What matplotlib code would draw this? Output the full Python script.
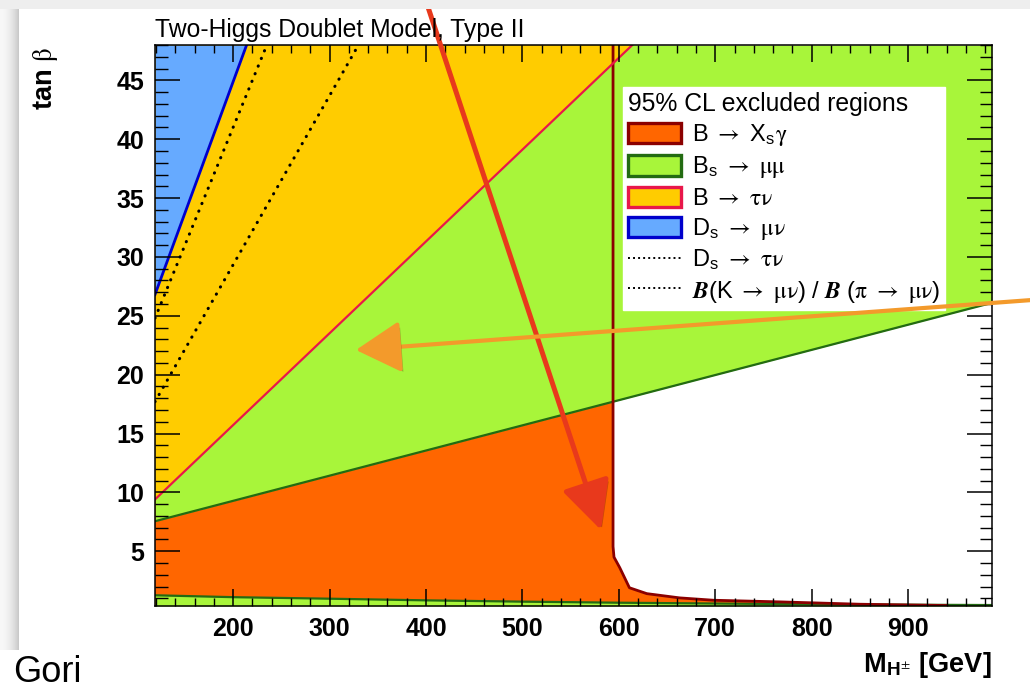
import matplotlib
matplotlib.use("Agg")
import matplotlib.pyplot as plt
import matplotlib.patheffects as pe
from matplotlib.patches import Patch, Rectangle
from matplotlib.lines import Line2D
from matplotlib.ticker import MultipleLocator
import numpy as np

plt.rcParams['font.family'] = ['Liberation Sans', 'DejaVu Sans']
plt.rcParams['mathtext.fontset'] = 'custom'
plt.rcParams['mathtext.rm'] = 'STIXGeneral'
plt.rcParams['mathtext.sf'] = 'Liberation Sans'
plt.rcParams['mathtext.it'] = 'STIXGeneral:italic'
plt.rcParams['mathtext.bf'] = 'Liberation Sans:bold'
if 'mathtext.bfit' in plt.rcParams:
    plt.rcParams['mathtext.bfit'] = 'STIXGeneral:italic:bold'

# ---- data (M_H+ in GeV, tan beta) ----
# B -> Xs gamma boundary (everything left of / below it excluded)
bsg_m = [594, 594, 595, 601, 611, 629, 663, 698, 767, 850, 940]
bsg_tb = [48.0, 5.4, 4.5, 3.6, 1.9, 1.4, 1.04, 0.84, 0.70, 0.50, 0.39]

# Bs -> mu mu : excluded above the upper line and below the lower line
bsmm_up_m = [119, 987]
bsmm_up_tb = [7.55, 26.1]
bsmm_low_m = [119, 200, 300, 400, 500, 600, 700, 800, 900, 987]
bsmm_low_tb = [1.26, 1.10, 0.97, 0.83, 0.72, 0.63, 0.56, 0.50, 0.46, 0.43]

# B -> tau nu : excluded above the line
btn_m = [119, 614]
btn_tb = [9.4, 48.0]

# Ds -> mu nu : excluded above the line
dsmn_m = [119, 214]
dsmn_tb = [26.8, 48.0]

# dotted lines
dstn_m = [119, 235]
dstn_tb = [24.8, 48.0]
kmn_m = [119, 330]
kmn_tb = [17.7, 48.0]

x_lim = (119, 987)
y_lim = (0.35, 48.0)
x_major = [200, 300, 400, 500, 600, 700, 800, 900]
y_major = [5, 10, 15, 20, 25, 30, 35, 40, 45]

c_orange = '#FF6600'
c_green = '#A8F53A'
c_yellow = '#FFCC00'
c_blue = '#66AAFF'
c_darkred = '#8B0000'
c_dgreen = '#236B12'
c_red = '#E8174A'
c_dblue = '#0000CC'

W, H = 1030, 691
fig = plt.figure(figsize=(W / 100, H / 100), dpi=100)
fig.patch.set_facecolor('white')

# slide background: grey top band and left shadow of the card
fig.patches.append(Rectangle((0, 1 - 9 / H), 1, 9 / H, transform=fig.transFigure,
                             facecolor='#EEEEEE', edgecolor='none', zorder=0))
for i in range(19):
    g = 0.97 - 0.18 * (i / 18) ** 2
    fig.patches.append(Rectangle((i / W, 41 / H), 1 / W, (650 - 9) / H, transform=fig.transFigure,
                                 facecolor=(g, g, g), edgecolor='none', zorder=0))

ax = fig.add_axes([155 / W, 1 - 606 / H, (992 - 155) / W, (606 - 45) / H])
ax.set_xlim(*x_lim)
ax.set_ylim(*y_lim)
x0, x1 = x_lim
y0, y1 = y_lim

# regions
ax.fill(np.r_[x0, bsg_m, bsg_m[-1], x0], np.r_[y1, bsg_tb, y0, y0],
        color=c_orange, lw=0, zorder=1)
ax.fill_between(bsmm_up_m, bsmm_up_tb, y1, color=c_green, lw=0, zorder=2)
ax.fill_between(bsmm_low_m, y0, bsmm_low_tb, color=c_green, lw=0, zorder=2)
ax.fill_between(btn_m, btn_tb, y1, color=c_yellow, lw=0, zorder=3)
ax.fill_between(dsmn_m, dsmn_tb, y1, color=c_blue, lw=0, zorder=4)

# boundaries
ax.plot(bsmm_up_m, bsmm_up_tb, color=c_dgreen, lw=1.6, zorder=5)
ax.plot(bsmm_low_m, bsmm_low_tb, color=c_dgreen, lw=1.6, zorder=5)
ax.plot(bsg_m, bsg_tb, color=c_darkred, lw=2.0, zorder=5)
ax.plot(btn_m, btn_tb, color=c_red, lw=1.6, zorder=5)
ax.plot(dsmn_m, dsmn_tb, color=c_dblue, lw=2.0, zorder=5)
ax.plot(dstn_m, dstn_tb, color='black', lw=2.2, ls=(0, (0.1, 2.6)),
        dash_capstyle='round', zorder=5)
ax.plot(kmn_m, kmn_tb, color='black', lw=2.2, ls=(0, (0.1, 2.6)),
        dash_capstyle='round', zorder=5)

# axes style (ROOT-like)
ax.set_xticks(x_major, [str(v) for v in x_major], fontsize=18, fontweight='bold')
ax.set_yticks(y_major, [str(v) for v in y_major], fontsize=18, fontweight='bold')
ax.xaxis.set_minor_locator(MultipleLocator(20))
ax.yaxis.set_minor_locator(MultipleLocator(1))
ax.tick_params(which='both', direction='in', top=True, right=True)
ax.tick_params(axis='x', which='major', length=12.2, width=1.1, pad=8)
ax.tick_params(axis='x', which='minor', length=6.1, width=1.0)
ax.tick_params(axis='y', which='major', length=18, width=1.1, pad=8)
ax.tick_params(axis='y', which='minor', length=9, width=1.0)
ax.xaxis.set_zorder(12)
ax.yaxis.set_zorder(12)
for s in ax.spines.values():
    s.set_linewidth(1.1)
    s.set_zorder(12)

fig.text(155 / W, 1 - 37 / H, 'Two-Higgs Doublet Model, Type II', fontsize=17.8,
         ha='left', va='baseline')
fig.text(46 / W, 1 - 47 / H, r'tan $\mathrm{\beta}$', fontsize=19.5, fontweight='bold',
         rotation=90, ha='center', va='top')
fig.text(992 / W, 1 - 672 / H, r'M$_{\mathbf{H}^{\pm}}$ [GeV]', fontsize=19.5,
         fontweight='bold', ha='right', va='baseline')
fig.text(13 / W, 1 / H, 'Gori', fontsize=26, ha='left', va='bottom')

# legend
handles = [
    Patch(facecolor=c_orange, edgecolor=c_darkred, lw=2.4),
    Patch(facecolor=c_green, edgecolor=c_dgreen, lw=2.4),
    Patch(facecolor=c_yellow, edgecolor=c_red, lw=2.4),
    Patch(facecolor=c_blue, edgecolor=c_dblue, lw=2.4),
    Line2D([], [], color='black', lw=1.4, ls=(0, (1, 1.6))),
    Line2D([], [], color='black', lw=1.4, ls=(0, (1, 1.6))),
]
labels = [
    r'B $\rightarrow$ X$_{\mathsf{s}}\mathrm{\gamma}$',
    r'B$_{\mathsf{s}}$ $\rightarrow$ $\mathrm{\mu\mu}$',
    r'B $\rightarrow$ $\mathrm{\tau\nu}$',
    r'D$_{\mathsf{s}}$ $\rightarrow$ $\mathrm{\mu\nu}$',
    r'D$_{\mathsf{s}}$ $\rightarrow$ $\mathrm{\tau\nu}$',
    r'$\mathbfit{B}$(K $\rightarrow$ $\mathrm{\mu\nu}$) / $\mathbfit{B}$ ($\mathrm{\pi}$ $\rightarrow$ $\mathrm{\mu\nu}$)',
]
leg = ax.legend(handles, labels, loc='upper left', bbox_to_anchor=(623 / W, 1 - 87 / H),
                bbox_transform=fig.transFigure, title='95% CL excluded regions',
                alignment='left', fontsize=17, title_fontsize=17.8, frameon=True,
                fancybox=False, framealpha=1, facecolor='white', edgecolor='white',
                borderpad=0.22, handlelength=2.25, handleheight=0.95, handletextpad=0.45,
                labelspacing=0.26, borderaxespad=0)
leg.set_zorder(20)

# hand-drawn slide arrows
red_arrow = ax.annotate('', xy=(601, H - 530), xytext=(425, H + 2), xycoords='figure pixels',
                        textcoords='figure pixels', annotation_clip=False, zorder=30,
                        arrowprops=dict(arrowstyle='-|>,head_length=1.5,head_width=0.75',
                                        mutation_scale=20, color='#E8391C', lw=3.6,
                                        shrinkA=0, shrinkB=0))
red_arrow.arrow_patch.set_path_effects([pe.SimplePatchShadow(offset=(2, -2), alpha=0.3),
                                        pe.Normal()])
orange_arrow = ax.annotate('', xy=(356, H - 350), xytext=(1032, H - 300), xycoords='figure pixels',
                           textcoords='figure pixels', annotation_clip=False, zorder=30,
                           arrowprops=dict(arrowstyle='-|>,head_length=1.4,head_width=0.8',
                                           mutation_scale=20, color='#F39A2B', lw=3.0,
                                           shrinkA=0, shrinkB=0))
orange_arrow.arrow_patch.set_path_effects([pe.SimplePatchShadow(offset=(2, -2), alpha=0.3),
                                           pe.Normal()])

fig.savefig('out.png', dpi=100)
